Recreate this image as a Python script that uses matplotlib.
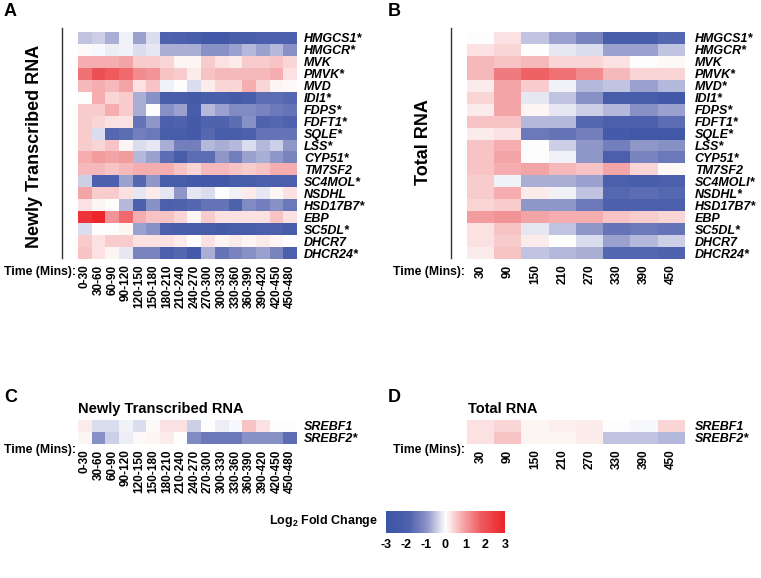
import matplotlib
matplotlib.use("Agg")
import numpy as np
import matplotlib.pyplot as plt
from matplotlib.colors import LinearSegmentedColormap
from matplotlib.lines import Line2D

plt.rcParams['font.family'] = ['Liberation Sans', 'DejaVu Sans']
plt.rcParams['mathtext.fontset'] = 'custom'
plt.rcParams['mathtext.rm'] = 'Liberation Sans:bold'
plt.rcParams['mathtext.it'] = 'Liberation Sans:bold'

# ---- data ----
new_times = ['0-30', '30-60', '60-90', '90-120', '120-150', '150-180', '180-210',
             '210-240', '240-270', '270-300', '300-330', '330-360', '360-390',
             '390-420', '420-450', '450-480']
total_times = ['30', '90', '150', '210', '270', '330', '390', '450']

new_genes = ['HMGCS1*', 'HMGCR*', 'MVK', 'PMVK*', 'MVD', 'IDI1*', 'FDPS*', 'FDFT1*',
             'SQLE*', 'LSS*', 'CYP51*', 'TM7SF2', 'SC4MOL*', 'NSDHL', 'HSD17B7*',
             'EBP', 'SC5DL*', 'DHCR7', 'DHCR24*']
total_genes = ['HMGCS1*', 'HMGCR*', 'MVK', 'PMVK*', 'MVD*', 'IDI1*', 'FDPS*', 'FDFT1*',
               'SQLE*', 'LSS*', 'CYP51*', 'TM7SF2', 'SC4MOLI*', 'NSDHL*', 'HSD17B7*',
               'EBP', 'SC5DL*', 'DHCR7', 'DHCR24*']
srebf_genes = ['SREBF1', 'SREBF2*']

# log2 fold change, newly transcribed RNA (rows = genes, cols = time windows)
new_lfc = [
    [-0.5, -0.4, -0.7, -0.1, -0.8, -0.3, -1.8, -1.9, -2.1, -2.5, -2.5, -2.2, -2.1, -1.9, -1.9, -1.9],
    [0.05, -0.05, -0.15, -0.1, -0.3, -0.2, -0.7, -0.7, -0.7, -1.0, -1.0, -0.8, -0.6, -0.8, -0.6, -1.0],
    [0.8, 0.8, 0.8, 0.9, 0.5, 0.5, 0.4, 0.1, 0.1, 0.5, 0.3, 0.2, 0.5, 0.5, 0.6, 0.4],
    [1.5, 2.0, 1.8, 1.6, 1.2, 1.1, 0.6, 0.5, 0.2, 0.6, 0.7, 0.7, 0.7, 0.7, 0.8, 0.3],
    [0.7, 0.8, 0.7, 0.9, 0.3, 0.6, -0.1, 0.0, -0.3, 0.2, 0.4, 0.4, 0.8, 0.4, 0.1, 0.05],
    [0.0, 0.8, 0.4, 0.5, -0.7, -1.0, -2.2, -2.2, -2.3, -2.1, -2.1, -2.3, -2.1, -1.6, -1.6, -1.7],
    [0.5, 0.5, 0.8, 0.5, -0.7, 0.0, -1.0, -0.8, -2.2, -0.6, -0.8, -1.1, -1.1, -1.2, -1.4, -1.5],
    [0.5, 0.4, 0.3, 0.3, -1.5, -0.9, -2.0, -1.8, -2.3, -1.8, -1.8, -1.6, -1.0, -1.8, -1.7, -1.8],
    [0.5, -0.3, -1.7, -1.6, -1.3, -1.4, -2.2, -2.2, -2.4, -1.7, -2.1, -2.1, -1.9, -1.5, -1.5, -1.5],
    [0.5, 0.4, 0.6, 0.1, -0.3, -0.2, -0.7, -1.3, -1.3, -0.6, -0.7, -0.6, -0.3, -0.6, -0.4, -0.9],
    [0.8, 1.0, 0.9, 1.0, -0.6, -0.8, -1.6, -2.2, -1.6, -1.6, -0.9, -1.3, -0.8, -0.7, -0.9, -1.2],
    [0.7, 0.7, 0.6, 0.7, 0.8, 0.8, 0.8, 0.6, 0.4, 0.7, 0.7, 0.6, 0.5, 0.6, 0.8, 0.8],
    [-0.4, -1.9, -1.9, -0.8, -1.7, -0.9, -2.2, -2.2, -2.4, -2.5, -2.5, -2.2, -2.2, -2.0, -2.0, -2.0],
    [0.9, 0.5, 0.5, 0.3, -0.2, 0.2, -0.2, -0.9, -0.2, -0.3, 0.0, -0.1, 0.2, -0.2, 0.1, 0.3],
    [0.3, 0.1, 0.0, -0.6, -1.9, -1.0, -1.9, -1.8, -1.7, -1.5, -1.5, -1.8, -1.1, -1.3, -1.0, -1.4],
    [2.6, 2.9, 1.1, 1.6, 0.8, 0.6, 0.6, 0.4, 0.1, 0.5, 0.3, 0.3, 0.3, 0.3, 0.6, 0.3],
    [-0.3, 0.0, 0.0, 0.1, -0.8, -1.0, -2.0, -2.1, -2.1, -2.2, -2.3, -2.2, -2.2, -2.0, -1.9, -2.2],
    [0.5, 0.3, 0.5, 0.5, 0.3, 0.3, 0.3, 0.2, 0.0, 0.3, 0.1, 0.2, 0.1, 0.2, 0.1, 0.0],
    [0.6, 0.3, 0.1, -0.2, -1.2, -1.2, -1.9, -1.7, -2.3, -0.7, -1.5, -1.2, -1.0, -0.8, -1.2, -2.0],
]

# log2 fold change, total RNA
total_lfc = [
    [0.0, 0.3, -0.5, -0.8, -1.2, -2.1, -2.1, -1.7],
    [0.3, 0.4, 0.0, -0.2, -0.3, -0.8, -0.8, -0.5],
    [0.7, 0.6, 0.7, 0.4, 0.4, 0.3, 0.0, 0.05],
    [0.7, 1.4, 1.7, 1.5, 1.2, 0.7, 0.4, 0.4],
    [0.2, 0.9, 0.5, -0.1, -0.6, -0.5, -0.8, -0.6],
    [0.4, 0.9, -0.2, -0.5, -1.0, -2.2, -2.2, -2.5],
    [0.2, 0.9, 0.1, -0.2, -0.4, -0.6, -1.0, -0.8],
    [0.6, 0.6, -0.6, -0.6, -1.7, -2.0, -2.0, -1.6],
    [0.2, 0.3, -1.4, -1.5, -1.3, -2.3, -2.6, -2.6],
    [0.6, 0.8, 0.0, -0.4, -0.9, -1.3, -0.9, -1.0],
    [0.6, 0.9, 0.0, -0.1, -0.9, -2.0, -1.2, -1.4],
    [0.6, 0.8, 0.9, 0.7, 0.6, 0.9, 0.4, 0.05],
    [0.5, -0.1, -0.7, -0.7, -0.8, -2.0, -2.1, -2.0],
    [0.5, 0.8, 0.2, -0.1, -0.5, -1.7, -1.6, -1.7],
    [0.4, 0.5, -0.9, -0.9, -1.4, -1.9, -1.9, -2.0],
    [1.0, 1.1, 0.9, 0.8, 0.8, 0.6, 0.5, 0.4],
    [0.3, 0.6, -0.2, -0.5, -0.9, -1.5, -1.4, -1.5],
    [0.3, 0.5, 0.2, 0.0, -0.3, -0.8, -0.6, -0.4],
    [0.2, 0.6, -0.5, -0.6, -0.7, -1.7, -1.7, -1.8],
]

srebf_new = [
    [0.2, -0.3, -0.3, -0.1, -0.3, 0.05, 0.3, 0.3, -0.4, 0.0, -0.15, -0.05, 0.6, 0.3, 0.0, 0.0],
    [0.1, -1.0, -0.4, -0.15, 0.05, 0.1, 0.2, 0.0, -1.1, -1.4, -1.4, -1.4, -1.0, -1.0, -1.0, -1.6],
]
srebf_total = [
    [0.3, 0.4, 0.1, 0.15, 0.2, 0.0, -0.05, 0.4],
    [0.3, 0.6, 0.1, 0.1, 0.2, -0.5, -0.5, -0.6],
]

# ---- colours ----
cmap = LinearSegmentedColormap.from_list('bwr_fc', [
    (0.0, '#3a54a4'), (0.2, '#4f62ae'), (0.35, '#9097c9'), (0.5, '#ffffff'),
    (0.65, '#f4a5a7'), (0.8, '#ee5a5e'), (1.0, '#ec2227')])

W, H = 761, 578
fig = plt.figure(figsize=(W / 100, H / 100), dpi=100)


def fax(x0, y0, x1, y1):
    # pixel box (top-left origin) -> axes
    return fig.add_axes([x0 / W, 1 - y1 / H, (x1 - x0) / W, (y1 - y0) / H])


def heat(ax, data, genes, times, lab_pad=5):
    ax.imshow(np.array(data), cmap=cmap, vmin=-3, vmax=3, aspect='auto',
              interpolation='nearest')
    for s in ax.spines.values():
        s.set_visible(False)
    ax.yaxis.tick_right()
    ax.set_yticks(range(len(genes)))
    ax.set_yticklabels(genes, fontsize=9, fontweight='bold', fontstyle='italic')
    ax.set_xticks(range(len(times)))
    ax.set_xticklabels(times, rotation=90, fontsize=8.5, fontweight='bold')
    ax.tick_params(length=0, pad=lab_pad)
    ax.tick_params(axis='x', pad=4)


axA = fax(78, 32, 297, 259)
heat(axA, new_lfc, new_genes, new_times)
axB = fax(467, 32, 685, 259)
heat(axB, total_lfc, total_genes, total_times, lab_pad=7)
axC = fax(78, 420, 297, 444)
heat(axC, srebf_new, srebf_genes, new_times)
axD = fax(467, 420, 685, 444)
heat(axD, srebf_total, srebf_genes, total_times, lab_pad=7)


def ftext(x, y, s, **kw):
    fig.text(x / W, 1 - y / H, s, **kw)


# panel letters
for (x, y, s) in [(4, 11, 'A'), (388, 11, 'B'), (4, 397, 'C'), (388, 397, 'D')]:
    ftext(x, y, s, fontsize=13, fontweight='bold', va='center', ha='left')

# side titles + bracket lines
ftext(35, 146, 'Newly Transcribed RNA', fontsize=13, fontweight='bold',
      rotation=90, ha='center', va='center')
ftext(423, 142, 'Total RNA', fontsize=13, fontweight='bold',
      rotation=90, ha='center', va='center')
for x in (62, 451):
    fig.add_artist(Line2D([x / W, x / W], [1 - 28 / H, 1 - 258 / H],
                          color='#333333', lw=1))

# "Time (Mins):" labels
for (x, y) in [(76, 272), (465, 272), (76, 450), (465, 450)]:
    ftext(x, y, 'Time (Mins):', fontsize=8.8, fontweight='bold', ha='right', va='center')

# small panel titles
ftext(78, 409, 'Newly Transcribed RNA', fontsize=10.5, fontweight='bold', va='center')
ftext(468, 409, 'Total RNA', fontsize=10.5, fontweight='bold', va='center')

# colour bar
cax = fax(386, 511, 505, 533)
sm = plt.cm.ScalarMappable(cmap=cmap, norm=plt.Normalize(-3, 3))
cb = fig.colorbar(sm, cax=cax, orientation='horizontal', ticks=[-3, -2, -1, 0, 1, 2, 3])
cb.outline.set_visible(False)
cax.tick_params(length=0, labelsize=9, pad=4)
cax.set_xticklabels(['-3', '-2', '-1', '0', '1', '2', '3'], fontweight='bold')
ftext(378, 521, r'Log$_2$ Fold Change', fontsize=9, fontweight='bold', ha='right', va='center')

fig.savefig('out.png', dpi=100)
